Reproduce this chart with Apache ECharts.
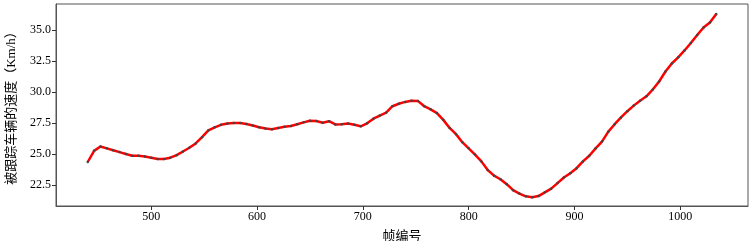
<!DOCTYPE html>
<html>
<head>
<meta charset="utf-8">
<script src="https://cdn.jsdelivr.net/npm/echarts@6/dist/echarts.min.js"></script>
<style>
  html, body { margin: 0; padding: 0; background: #fff; }
  #chart { width: 751px; height: 241px; }
</style>
</head>
<body>
<div id="chart"></div>
<script>
// 帧编号
var frames = [
  440, 446, 452, 458, 464, 470, 476, 482, 488, 494,
  500, 506, 512, 518, 524, 530, 536, 542, 548, 554,
  560, 566, 572, 578, 584, 590, 596, 602, 608, 614,
  620, 626, 632, 638, 644, 650, 656, 662, 668, 674,
  680, 686, 692, 698, 704, 710, 716, 722, 728, 734,
  740, 746, 752, 758, 764, 770, 776, 782, 788, 794,
  800, 806, 812, 818, 824, 830, 836, 842, 848, 854,
  860, 866, 872, 878, 884, 890, 896, 902, 908, 914,
  920, 926, 932, 938, 944, 950, 956, 962, 968, 974,
  980, 986, 992, 998, 1004, 1010, 1016, 1022, 1028, 1034
];
// 被跟踪车辆的速度 (Km/h)
var speeds = [
  24.35, 25.25, 25.6, 25.45, 25.3, 25.15, 25.0, 24.85, 24.85, 24.8,
  24.7, 24.6, 24.6, 24.7, 24.9, 25.2, 25.5, 25.85, 26.35, 26.9,
  27.15, 27.35, 27.45, 27.5, 27.5, 27.42, 27.3, 27.15, 27.05, 27.0,
  27.1, 27.2, 27.25, 27.4, 27.55, 27.68, 27.66, 27.52, 27.64, 27.38,
  27.4, 27.45, 27.35, 27.23, 27.47, 27.85, 28.1, 28.33, 28.85, 29.05,
  29.2, 29.3, 29.28, 28.85, 28.6, 28.3, 27.75, 27.1, 26.6, 25.95,
  25.45, 24.95, 24.4, 23.7, 23.25, 22.96, 22.56, 22.08, 21.8, 21.58,
  21.5, 21.6, 21.9, 22.2, 22.65, 23.1, 23.45, 23.85, 24.4, 24.85,
  25.45, 26.0, 26.8, 27.4, 27.95, 28.45, 28.9, 29.3, 29.65, 30.2,
  30.85, 31.65, 32.3, 32.8, 33.35, 33.95, 34.6, 35.2, 35.6, 36.3
];
var xTicks = [500, 600, 700, 800, 900, 1000];
var yTicks = [22.5, 25.0, 27.5, 30.0, 32.5, 35.0];

var chart = echarts.init(document.getElementById('chart'));

var serif = '"Liberation Serif", "Noto Sans CJK SC", serif';
var points = frames.map(function (f, i) { return [f, speeds[i]]; });

var option = {
  animation: false,
  backgroundColor: '#fff',
  grid: {
    left: 56,
    right: 3,
    top: 4,
    bottom: 35,
    containLabel: false,
    outerBoundsMode: 'none',
    show: true,
    borderColor: '#555',
    borderWidth: 1
  },
  xAxis: {
    type: 'value',
    min: 410,
    max: 1064,
    name: '帧编号',
    nameLocation: 'middle',
    nameGap: 24,
    nameTextStyle: { fontFamily: serif, fontSize: 13, color: '#000' },
    splitLine: { show: false },
    axisLine: { show: true, lineStyle: { color: '#555', width: 1 } },
    axisTick: { show: true, length: 4, lineStyle: { color: '#333' }, customValues: xTicks },
    axisLabel: {
      customValues: xTicks,
      formatter: function (v) { return String(v); },
      fontFamily: serif, fontSize: 12, color: '#000', margin: 5
    }
  },
  yAxis: {
    type: 'value',
    min: 20.8,
    max: 37.1,
    name: '被跟踪车辆的速度（Km/h）',
    nameLocation: 'middle',
    nameGap: 38,
    nameTextStyle: { fontFamily: serif, fontSize: 13, color: '#000' },
    splitLine: { show: false },
    axisLine: { show: true, lineStyle: { color: '#555', width: 1 } },
    axisTick: { show: true, length: 4, lineStyle: { color: '#333' }, customValues: yTicks },
    axisLabel: {
      customValues: yTicks,
      formatter: function (v) { return v.toFixed(1); },
      fontFamily: serif, fontSize: 12, color: '#000', margin: 5
    }
  },
  series: [
    {
      type: 'line',
      data: points,
      symbol: 'circle',
      symbolSize: 2.5,
      showSymbol: true,
      itemStyle: { color: '#444' },
      lineStyle: { color: '#ff0000', width: 2.5 },
      z: 2
    }
  ]
};

chart.setOption(option);
</script>
</body>
</html>
